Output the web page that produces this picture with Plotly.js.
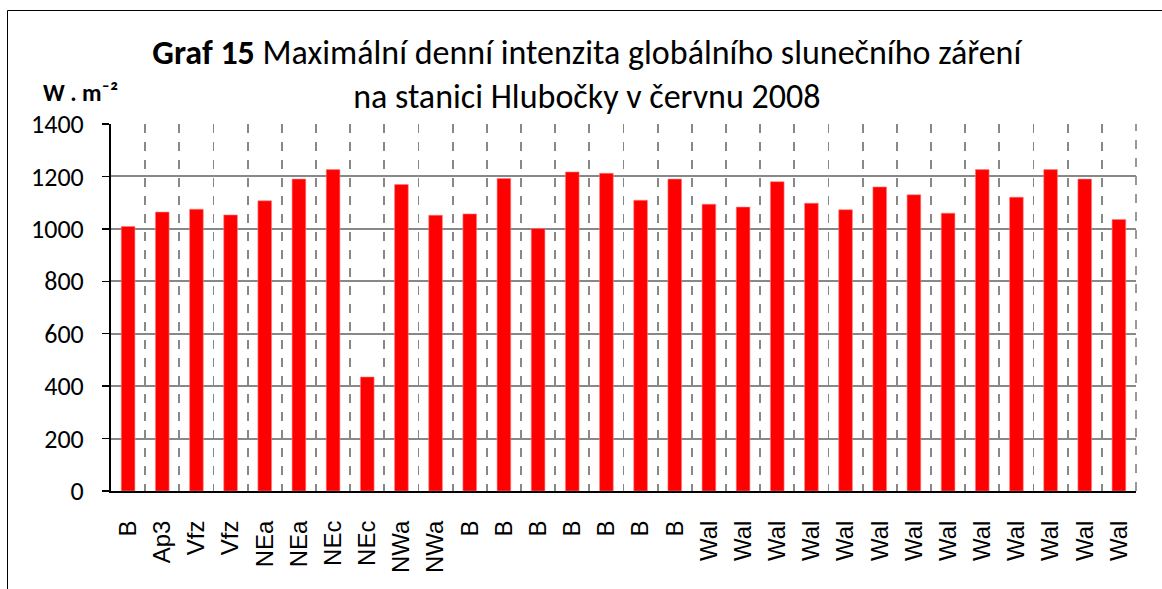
<!DOCTYPE html>
<html>
<head>
<meta charset="utf-8">
<script src="https://cdn.plot.ly/plotly-3.0.1.min.js"></script>
<style>
  html, body { margin: 0; padding: 0; background: #fff; }
  #chart { width: 1162px; height: 589px; }
</style>
</head>
<body>
<div id="chart"></div>
<script>
// Synoptic situation type for each day of June 2008 (x tick labels)
const situationLabels = ["B","Ap3","Vfz","Vfz","NEa","NEa","NEc","NEc","NWa","NWa",
  "B","B","B","B","B","B","B",
  "Wal","Wal","Wal","Wal","Wal","Wal","Wal","Wal","Wal","Wal","Wal","Wal","Wal"];
// Day index (1..30)
const days = [1,2,3,4,5,6,7,8,9,10,11,12,13,14,15,16,17,18,19,20,21,22,23,24,25,26,27,28,29,30];
// Maximum daily global solar radiation intensity, W.m-2
const maxIntensity = [1009,1064,1075,1053,1107,1190,1226,435,1169,1052,
  1057,1192,1001,1217,1212,1109,1190,
  1094,1083,1180,1098,1073,1160,1130,1060,1226,1121,1226,1190,1036];
const yTicks = [0,200,400,600,800,1000,1200,1400];

const titleLine1 = "<b>Graf 15</b> Maximální denní intenzita globálního slunečního záření";
const titleLine2 = "na stanici Hlubočky v červnu 2008";
const unitLabel = "<b>W . m⁻²</b>";

const trace = {
  type: "bar",
  x: days,
  y: maxIntensity,
  marker: { color: "#ff0000", line: { color: "#ff7f7f", width: 0.6 } },
  hoverinfo: "x+y"
};

const layout = {
  width: 1162,
  height: 589,
  margin: { l: 111, r: 26, t: 124, b: 98 },
  paper_bgcolor: "#ffffff",
  plot_bgcolor: "#ffffff",
  showlegend: false,
  bargap: 0.6,
  title: {
    text: titleLine1 + "<br>" + titleLine2,
    font: { family: "Carlito, Lato, sans-serif", size: 34, color: "#000" },
    x: 0.505, xref: "container", xanchor: "center",
    y: 1 - 64/589, yref: "container", yanchor: "top"
  },
  xaxis: {
    range: [0.5, 30.5],
    tickmode: "array",
    tickvals: days,
    ticktext: situationLabels,
    tickangle: -90,
    tickfont: { family: "Liberation Sans, Arial, sans-serif", size: 24, color: "#000" },
    ticks: "",
    ticklabelstandoff: 18,
    showgrid: false,
    zeroline: false,
    showline: true,
    linecolor: "#000",
    linewidth: 2,
    minor: { tick0: 0.5, dtick: 1, showgrid: true, gridcolor: "#888888", gridwidth: 1.7, griddash: "dash", ticks: "" }
  },
  yaxis: {
    range: [0, 1400],
    tickmode: "array",
    tickvals: yTicks,
    ticktext: yTicks.map(String),
    tickfont: { family: "Carlito, Lato, sans-serif", size: 26, color: "#000" },
    ticks: "outside",
    ticklen: 7,
    tickwidth: 1.5,
    tickcolor: "#000",
    ticklabelstandoff: 13,
    showgrid: true,
    gridcolor: "#888888",
    gridwidth: 2,
    zeroline: false,
    showline: true,
    linecolor: "#000",
    linewidth: 2
  },
  annotations: [{
    text: unitLabel,
    xref: "paper", yref: "paper",
    x: (80 - 111) / 1025, y: (491 - 92) / 367,
    xanchor: "center", yanchor: "middle",
    showarrow: false,
    font: { family: "Carlito, Lato, sans-serif", size: 24, color: "#000" }
  }],
  shapes: [{
    type: "rect",
    xref: "paper", yref: "paper",
    x0: (7.5 - 111) / 1025, x1: (1180 - 111) / 1025,
    y0: (491 - 610) / 367, y1: (491 - 10.5) / 367,
    line: { color: "#000", width: 1 },
    fillcolor: "rgba(0,0,0,0)",
    layer: "below"
  }, {
    type: "line",
    xref: "paper", yref: "paper",
    x0: 1, x1: 1, y0: 0, y1: 1,
    line: { color: "#888888", width: 1.7, dash: "dash" },
    layer: "below"
  }]
};

Plotly.newPlot("chart", [trace], layout, { displayModeBar: false, staticPlot: true });
</script>
</body>
</html>
